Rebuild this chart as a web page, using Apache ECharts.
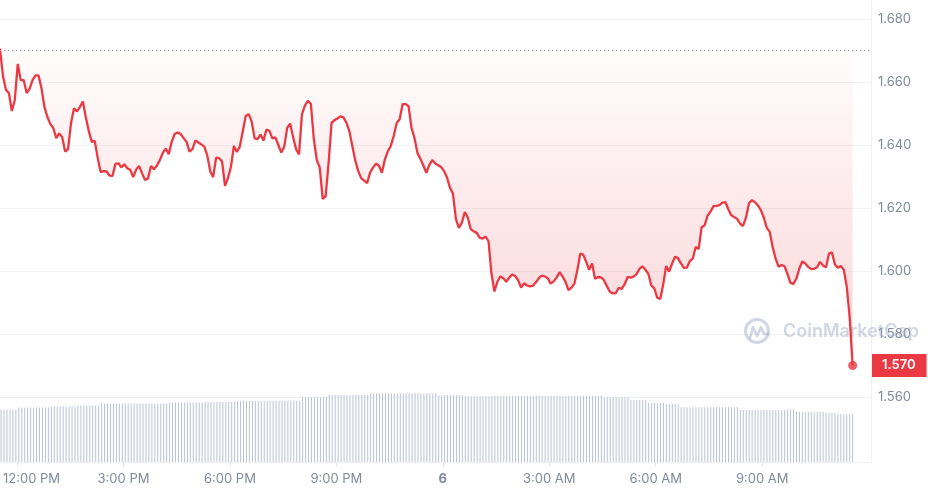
<!DOCTYPE html>
<html><head><meta charset="utf-8">
<script src="https://cdn.jsdelivr.net/npm/echarts@6/dist/echarts.min.js"></script>
<style>html,body{margin:0;padding:0;background:#fff}#c{width:928px;height:495px}</style>
</head><body><div id="c"></div>
<script>
// ---- data ----
const startTime = '2025-03-05T11:33:00Z';
const stepMinutes = 5;
const axisEndTime = '2025-03-06T12:04:00Z';

const prices = [
1.6706,1.6619,1.6575,1.6565,1.6508,1.6543,1.6657,1.6606,1.6606,1.6565,1.6578,1.6606,
1.6621,1.6621,1.6581,1.6521,1.6489,1.6467,1.6454,1.6422,1.6437,1.6425,1.6379,1.6387,
1.6470,1.6517,1.6506,1.6521,1.6538,1.6487,1.6444,1.6410,1.6413,1.6359,1.6314,1.6317,
1.6316,1.6303,1.6302,1.6340,1.6342,1.6329,1.6339,1.6326,1.6321,1.6298,1.6322,1.6333,
1.6310,1.6289,1.6294,1.6333,1.6323,1.6335,1.6352,1.6375,1.6389,1.6371,1.6410,1.6435,
1.6440,1.6435,1.6422,1.6410,1.6379,1.6387,1.6414,1.6408,1.6402,1.6395,1.6367,1.6317,
1.6298,1.6360,1.6358,1.6348,1.6270,1.6295,1.6330,1.6397,1.6378,1.6395,1.6443,1.6492,
1.6498,1.6475,1.6421,1.6419,1.6433,1.6414,1.6449,1.6445,1.6421,1.6424,1.6400,1.6376,
1.6394,1.6454,1.6468,1.6425,1.6387,1.6370,1.6498,1.6525,1.6540,1.6531,1.6419,1.6352,
1.6329,1.6229,1.6237,1.6344,1.6470,1.6479,1.6484,1.6491,1.6488,1.6471,1.6444,1.6397,
1.6351,1.6317,1.6295,1.6287,1.6279,1.6312,1.6328,1.6341,1.6334,1.6312,1.6354,1.6380,
1.6397,1.6429,1.6470,1.6482,1.6530,1.6530,1.6523,1.6454,1.6422,1.6375,1.6356,1.6335,
1.6312,1.6336,1.6352,1.6341,1.6336,1.6330,1.6317,1.6296,1.6264,1.6245,1.6165,1.6137,
1.6153,1.6187,1.6170,1.6133,1.6126,1.6121,1.6106,1.6103,1.6109,1.6095,1.5992,1.5935,
1.5966,1.5983,1.5977,1.5966,1.5979,1.5989,1.5984,1.5971,1.5947,1.5961,1.5954,1.5951,
1.5953,1.5964,1.5977,1.5985,1.5983,1.5977,1.5960,1.5967,1.5979,1.5996,1.5983,1.5966,
1.5939,1.5947,1.5959,1.6002,1.6055,1.6052,1.6029,1.6004,1.6024,1.5975,1.5981,1.5980,
1.5971,1.5952,1.5934,1.5929,1.5930,1.5947,1.5943,1.5958,1.5981,1.5979,1.5982,1.5990,
1.6007,1.6015,1.6004,1.5991,1.5954,1.5945,1.5915,1.5911,1.5956,1.6016,1.5998,1.6023,
1.6045,1.6041,1.6024,1.6010,1.6011,1.6031,1.6039,1.6076,1.6070,1.6139,1.6145,1.6176,
1.6188,1.6206,1.6207,1.6209,1.6217,1.6219,1.6196,1.6177,1.6171,1.6165,1.6150,1.6143,
1.6171,1.6215,1.6225,1.6218,1.6208,1.6193,1.6169,1.6137,1.6124,1.6075,1.6039,1.6013,
1.6019,1.6015,1.5990,1.5962,1.5959,1.5976,1.6008,1.6030,1.6024,1.6013,1.6006,1.6007,
1.6012,1.6029,1.6017,1.6012,1.6055,1.6059,1.6021,1.6010,1.6016,1.6004,1.5951,1.5853,
1.5700
];

// volume (millions), one bar per price point
const volumes = [
52.5,52.5,52.5,52.5,52.5,52.5,54.5,54.5,54.5,54.5,54.5,54.5,
54.5,54.5,54.5,54.5,54.5,55.5,55.5,55.5,55.5,55.5,55.5,55.5,
55.5,55.5,56.5,56.5,56.5,56.5,56.5,56.5,56.5,56.5,58.5,58.5,
58.5,58.5,58.5,58.5,58.5,58.5,58.5,58.5,58.5,58.5,58.5,58.5,
58.5,58.5,58.5,58.5,58.5,58.5,58.5,58.5,58.5,59.5,59.5,59.5,
59.5,59.5,59.5,59.5,59.5,59.5,59.5,59.5,59.5,60.3,60.3,60.3,
60.3,60.3,60.3,60.3,60.3,60.3,60.3,60.3,61.3,61.3,61.3,61.3,
61.3,61.3,61.3,61.3,61.3,61.3,61.3,61.3,61.3,61.3,61.3,61.3,
61.3,61.3,61.3,61.3,61.3,61.3,64.7,64.7,64.7,64.7,64.7,64.7,
64.7,64.7,64.7,67,67,67,67,67,67,67,67,67,67,67,
67,67,67,68.7,68.7,68.7,68.7,68.7,68.7,68.7,68.7,68.7,68.7,68.7,
68.7,68.7,68.7,68.7,68.7,68.7,68.7,68.7,68.7,68.7,68.7,68.7,
66.7,66.7,66.7,66.7,66.7,66.7,66.7,66.7,66.7,65.8,65.8,65.8,
65.8,65.8,65.8,65.8,65.8,65.8,66.2,66.2,66.2,66.2,66.2,66.2,
66.2,66.2,66.2,66.2,66.2,66.2,66.2,66.2,66.2,66.2,66.2,66.2,
66.2,66.2,66.2,66.2,66.2,66.2,66.2,66.2,66.2,66.2,66.2,66.2,
66.2,66.2,66.2,66.2,66.2,66.2,66.2,66.2,64.7,64.7,64.7,64.7,
64.7,64.7,64.7,64.7,64.7,62,62,62,62,62,62,59,
59,59,59,59,59,58,58,58,58,58,54.7,54.7,
54.7,54.7,54.7,54.7,54.7,54.7,54.7,54.7,54.7,54.7,54.7,54.7,
54.7,54.7,54.7,54.7,54.7,54.7,52,52,52,52,52,52,
52,52,52,52,52,52,52,52,52,52,52.7,52.7,52.7,50.3,50.3,50.3,
50.3,50.3,50.3,50.3,50.3,50.3,50.3,49.3,49.3,49.3,49.3,47.8,
47.8,47.8,47.8,47.8,47.8
];

const tickTimes = [
'2025-03-05T12:00:00Z','2025-03-05T15:00:00Z','2025-03-05T18:00:00Z','2025-03-05T21:00:00Z',
'2025-03-06T00:00:00Z','2025-03-06T03:00:00Z','2025-03-06T06:00:00Z','2025-03-06T09:00:00Z'
];
const priceMin = 1.56, priceMax = 1.68, priceStep = 0.02;
const volumeAxisMax = 462;

// ---- chart ----
const t0 = Date.parse(startTime);
const times = prices.map((_, i) => t0 + i * stepMinutes * 60000);
const priceData = times.map((t, i) => [t, prices[i]]);
const volData = times.map((t, i) => [t, volumes[i]]);
const last = priceData[priceData.length - 1];
const tickMs = tickTimes.map(s => Date.parse(s));
const xMin = t0, xMax = Date.parse(axisEndTime);

const FONT = 'Inter, "Noto Sans", sans-serif';
const GREY = '#808a9d';
const RED = '#ea3943';
const WM = 'rgba(150,164,192,0.45)';

function fmtTime(v) {
  const d = new Date(v);
  const h = d.getUTCHours();
  if (h === 0) return '{b|' + d.getUTCDate() + '}';
  const h12 = h % 12 === 0 ? 12 : h % 12;
  const s = h12 + ':00 ' + (h < 12 ? 'AM' : 'PM');
  return v === tickMs[0] ? '{f|' + s + '}' : s;
}

const chart = echarts.init(document.getElementById('c'), null, {renderer: 'canvas'});
chart.setOption({
  animation: false,
  backgroundColor: '#ffffff',
  textStyle: {fontFamily: FONT},
  grid: [
    {left: 0, right: 57, top: 19, bottom: 98},
    {left: 0, right: 57, top: 0, bottom: 33}
  ],
  xAxis: [
    {type: 'value', gridIndex: 0, min: xMin, max: xMax, show: false, splitLine: {show: false}},
    {type: 'value', gridIndex: 1, min: xMin, max: xMax,
     axisLine: {show: true, lineStyle: {color: '#eff2f5', width: 1}},
     axisTick: {show: true, length: 5, lineStyle: {color: '#e3e6ec'}, customValues: tickMs},
     splitLine: {show: false},
     axisLabel: {customValues: tickMs, formatter: fmtTime, color: GREY, fontSize: 13, margin: 11, fontFamily: FONT,
       showMinLabel: true, showMaxLabel: true,
       rich: {
         b: {fontWeight: 'bold', fontSize: 13, color: GREY, fontFamily: FONT},
         f: {padding: [0, 0, 0, 29], fontSize: 13, color: GREY, fontFamily: FONT}
       }}
    }
  ],
  yAxis: [
    {type: 'value', gridIndex: 0, position: 'right', min: priceMin, max: priceMax, interval: priceStep,
     axisLine: {show: false}, axisTick: {show: false},
     splitLine: {show: true, lineStyle: {color: '#f1f2f4', width: 1}},
     axisLabel: {color: GREY, fontSize: 13, margin: 7, fontFamily: FONT, formatter: v => v.toFixed(3)}
    },
    {type: 'value', gridIndex: 1, position: 'right', min: 0, max: volumeAxisMax,
     axisLine: {show: true, lineStyle: {color: '#eff2f5', width: 1}},
     axisTick: {show: false}, axisLabel: {show: false}, splitLine: {show: false}
    }
  ],
  graphic: [
    {type: 'circle', z: 1, shape: {cx: 757, cy: 331, r: 11.5}, style: {fill: 'none', stroke: WM, lineWidth: 3}},
    {type: 'polyline', z: 1, shape: {points: [[750, 338], [753, 327], [757, 336], [761, 327], [764, 334], [768, 334]]},
     style: {fill: 'none', stroke: WM, lineWidth: 2.6, lineJoin: 'round', lineCap: 'round'}},
    {type: 'text', z: 1, x: 783, y: 332, style: {text: 'CoinMarketCap', font: '600 18px Inter, "Noto Sans", sans-serif', fill: WM, verticalAlign: 'middle'}}
  ],
  series: [
    {
      type: 'bar', xAxisIndex: 1, yAxisIndex: 1, data: volData, barWidth: 1,
      itemStyle: {color: '#b9c3d6'}, silent: true, z: 1
    },
    {
      type: 'line', xAxisIndex: 0, yAxisIndex: 0, data: priceData, showSymbol: false, symbol: 'none',
      lineStyle: {color: RED, width: 2.3}, z: 3,
      areaStyle: {
        origin: prices[0],
        color: {type: 'linear', x: 0, y: 0, x2: 0, y2: 1, colorStops: [
          {offset: 0, color: 'rgba(234,57,67,0.02)'},
          {offset: 1, color: 'rgba(234,57,67,0.3)'}
        ]}
      },
      markLine: {
        silent: true, symbol: 'none', animation: false,
        lineStyle: {type: [1, 3], color: '#9aa0ab', width: 1},
        label: {show: false},
        data: [{yAxis: prices[0]}]
      }
    },
    {
      type: 'scatter', xAxisIndex: 0, yAxisIndex: 0, data: [last], symbolSize: 9,
      itemStyle: {color: RED}, z: 4, silent: true,
      markLine: {
        silent: true, symbol: 'none', animation: false,
        lineStyle: {color: 'rgba(0,0,0,0)', width: 0, type: 'solid'},
        label: {show: true, position: 'end', distance: 1, formatter: () => last[1].toFixed(3),
          backgroundColor: RED, color: '#fff', fontSize: 13, fontWeight: 600, fontFamily: FONT,
          padding: [5, 11, 5, 10], lineHeight: 13, opacity: 1},
        data: [{yAxis: last[1]}]
      }
    }
  ]
});
</script>
</body></html>
